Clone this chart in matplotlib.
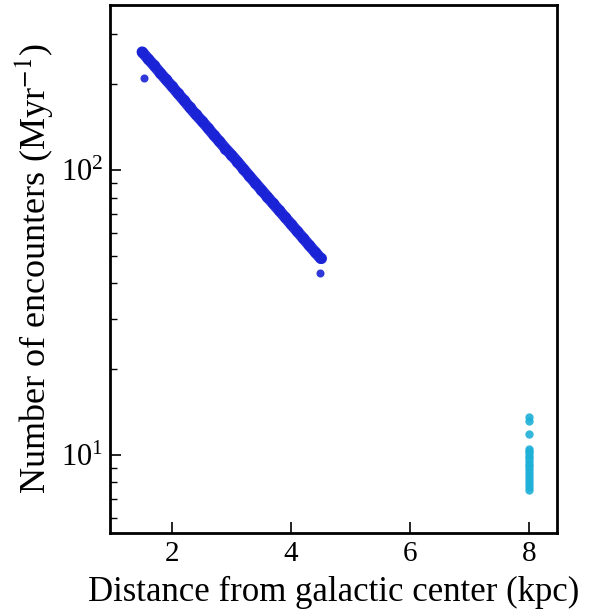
import matplotlib
matplotlib.use("Agg")
import matplotlib.pyplot as plt
from matplotlib.ticker import LogLocator, NullFormatter

plt.rcParams['font.family'] = ['Liberation Serif', 'DejaVu Serif']
plt.rcParams['mathtext.fontset'] = 'stix'

# Inner-galaxy encounter rates along the bar (kpc, Myr^-1)
inner_r = [1.5, 1.6, 1.7, 1.8, 1.9, 2.0, 2.1, 2.2, 2.3, 2.4, 2.5, 2.6, 2.7, 2.8,
           2.9, 3.0, 3.1, 3.2, 3.3, 3.4, 3.5, 3.6, 3.7, 3.8, 3.9, 4.0, 4.1, 4.2,
           4.3, 4.4, 4.5]
inner_rate = [260, 246, 233, 220, 208, 197, 186, 176, 166, 157, 149, 141, 133,
              126, 119, 113, 107, 101, 95.4, 90.2, 85.3, 80.7, 76.3, 72.2, 68.3,
              64.6, 61.1, 57.8, 54.6, 51.7, 48.9]

# Isolated low points of the inner sample
outlier_r = [1.53, 4.49]
outlier_rate = [210, 43.6]

# Solar-neighbourhood sample
solar_r = [8.0] * 19
solar_rate = [7.5, 7.7, 7.9, 8.1, 8.3, 8.5, 8.7, 8.9, 9.1, 9.3, 9.5, 9.7, 9.9,
              10.1, 10.3, 10.5, 11.8, 13.1, 13.6]

blue = '#1a22d6'
cyan = '#1fb0d8'

fig = plt.figure(figsize=(5.9, 6.13), dpi=100)
ax = fig.add_axes([0.1864, 0.1305, 0.7576, 0.8613])

ax.plot(inner_r, inner_rate, '-', color=blue, lw=8, solid_capstyle='round',
        alpha=0.95)
ax.plot(inner_r, inner_rate, 'o', color=blue, ms=8, mec='none', alpha=0.9)
ax.plot(outlier_r, outlier_rate, 'o', color=blue, ms=5.8, mec='none', alpha=0.9)
ax.plot(solar_r, solar_rate, 'o', color=cyan, ms=6.0, mec='none', alpha=0.9)

ax.set_yscale('log')
ax.set_xlim(0.96, 8.47)
ax.set_ylim(5.3, 380)
ax.set_xticks([2, 4, 6, 8])
ax.yaxis.set_major_locator(LogLocator(base=10, numticks=10))
ax.yaxis.set_minor_locator(LogLocator(base=10, subs=range(2, 10), numticks=10))
ax.yaxis.set_minor_formatter(NullFormatter())

ax.tick_params(which='both', direction='in', top=False, right=False)
ax.tick_params(axis='x', labelsize=21, pad=6)
ax.tick_params(axis='y', labelsize=22, pad=5)
ax.tick_params(which='major', length=8, width=1.2)
ax.tick_params(which='minor', length=5, width=1.0)
for sp in ax.spines.values():
    sp.set_linewidth(2)

ax.set_xlabel('Distance from galactic center (kpc)', fontsize=25, labelpad=6)
ax.set_ylabel('Number of encounters (Myr$^{-1}$)', fontsize=26, labelpad=4)

fig.savefig('out.png', dpi=100)
